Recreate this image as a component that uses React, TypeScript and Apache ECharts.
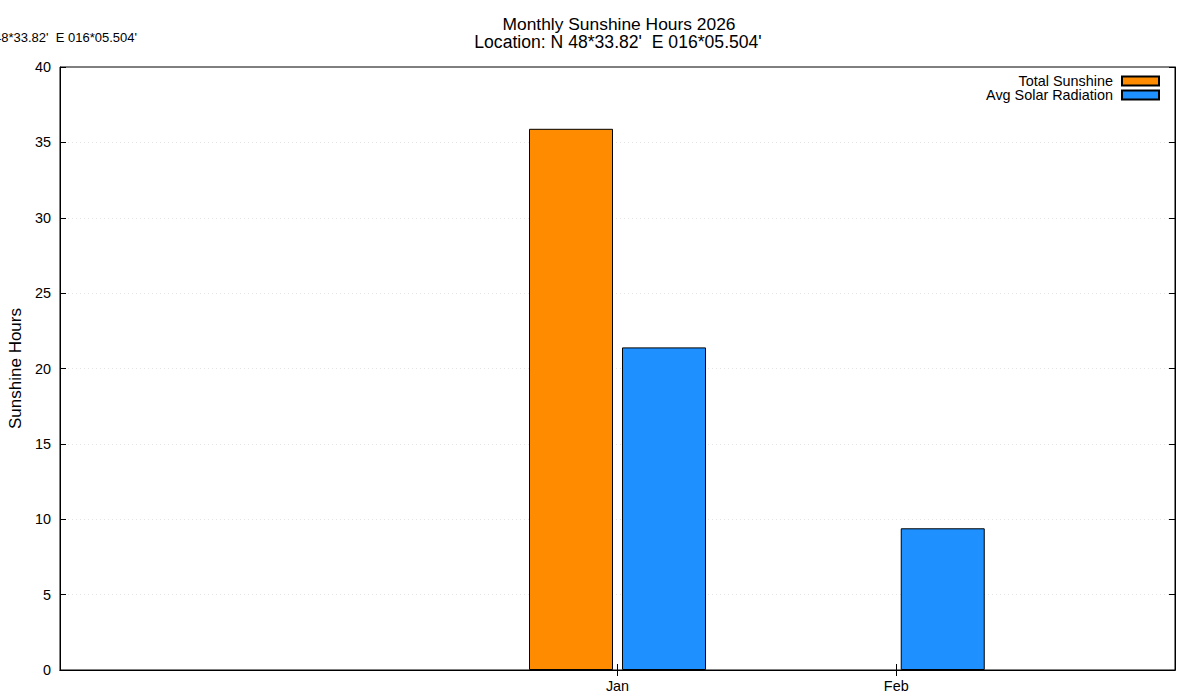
import React, { useEffect, useRef } from "react";
import * as echarts from "echarts";

const titleText = "Monthly Sunshine Hours 2026";
const locationText = "Location: N 48*33.82'  E 016*05.504'";
const yAxisName = "Sunshine Hours";
const seriesNames = ["Total Sunshine", "Avg Solar Radiation"];
const seriesColors = ["#ff8c00", "#1e90ff"];
// x range slots (gnuplot range padding) with the month categories
const xSlots = ["", "", "Jan", "Feb", ""];
const totalSunshine = [null, null, 35.9, null, null];
const avgSolarRadiation = [null, null, 21.4, 9.4, null];
const yMin = 0;
const yMax = 40;
const yInterval = 5;

const FONT = "'Liberation Sans', Arial, Helvetica, sans-serif";

export default function App() {
  const ref = useRef<HTMLDivElement>(null);
  useEffect(() => {
    if (!ref.current) return;
    const chart = echarts.init(ref.current, undefined, { renderer: "svg" });
    const showSlot = (_i: number, v: string) => v !== "";
    const common = {
      type: "bar",
      barWidth: 84,
      barGap: "10.7%",
    };
    chart.setOption({
      animation: false,
      backgroundColor: "#fff",
      textStyle: { fontFamily: FONT },
      grid: {
        left: 60,
        right: 25,
        top: 67,
        bottom: 30,
        containLabel: false,
        outerBoundsMode: "none",
        show: true,
        borderColor: "#000",
        borderWidth: 1,
        backgroundColor: "transparent",
      },
      legend: {
        orient: "vertical",
        right: 35,
        top: 69,
        align: "right",
        itemWidth: 37,
        itemHeight: 9,
        itemGap: 0,
        textStyle: { fontSize: 14.4, color: "#000", fontFamily: FONT, padding: [0, 4, 0, 0] },
        data: seriesNames.map((n) => ({ name: n, icon: "rect" })),
      },
      xAxis: [
        {
          type: "category",
          data: xSlots,
          boundaryGap: false,
          axisLine: { show: true, lineStyle: { color: "#000", width: 1 } },
          axisTick: { show: true, inside: true, length: 6, interval: showSlot, lineStyle: { color: "#000" } },
          axisLabel: { interval: showSlot, margin: 9, fontSize: 14.4, color: "#000", fontFamily: FONT },
          splitLine: { show: false },
        },
        {
          type: "category",
          position: "top",
          data: xSlots,
          boundaryGap: false,
          axisLine: { show: true, lineStyle: { color: "#000", width: 1 } },
          axisTick: { show: true, inside: true, length: 6, interval: showSlot, lineStyle: { color: "#000" } },
          axisLabel: { show: false },
          splitLine: { show: false },
        },
      ],
      yAxis: [
        {
          type: "value",
          min: yMin,
          max: yMax,
          interval: yInterval,
          name: yAxisName,
          nameLocation: "middle",
          nameGap: 36,
          nameRotate: 90,
          nameTextStyle: { fontSize: 17, color: "#000", fontFamily: FONT },
          axisLine: { show: true, lineStyle: { color: "#000", width: 1 } },
          axisTick: { show: true, inside: true, length: 6, lineStyle: { color: "#000" } },
          axisLabel: { margin: 9, fontSize: 14.4, color: "#000", fontFamily: FONT },
          splitLine: {
            show: true,
            showMinLine: false,
            showMaxLine: false,
            lineStyle: { color: "#e4e4e4", type: [1, 3], width: 1 },
          },
        },
        {
          type: "value",
          position: "right",
          min: yMin,
          max: yMax,
          interval: yInterval,
          axisLine: { show: true, lineStyle: { color: "#000", width: 1 } },
          axisTick: { show: true, inside: true, length: 6, lineStyle: { color: "#000" } },
          axisLabel: { show: false },
          splitLine: { show: false },
        },
      ],
      series: [
        {
          ...common,
          name: seriesNames[0],
          data: totalSunshine,
          itemStyle: { color: seriesColors[0], borderColor: "#000", borderWidth: 1 },
        },
        {
          ...common,
          name: seriesNames[1],
          data: avgSolarRadiation,
          itemStyle: { color: seriesColors[1], borderColor: "#000", borderWidth: 1 },
        },
      ],
      graphic: [
        {
          type: "text",
          x: 619,
          y: 23.5,
          style: { text: titleText, font: `17.4px ${FONT}`, fill: "#000", align: "center", verticalAlign: "middle" },
        },
        {
          type: "text",
          x: 618,
          y: 42,
          style: { text: locationText, font: `17.6px ${FONT}`, fill: "#000", align: "center", verticalAlign: "middle" },
        },
        {
          type: "text",
          x: 137,
          y: 37.5,
          style: { text: locationText, font: `13px ${FONT}`, fill: "#000", align: "right", verticalAlign: "middle" },
        },
      ],
    });
    return () => chart.dispose();
  }, []);
  return (
    <div
      ref={ref}
      style={{ position: "absolute", left: 0, top: 0, width: 1200, height: 700 }}
    />
  );
}
